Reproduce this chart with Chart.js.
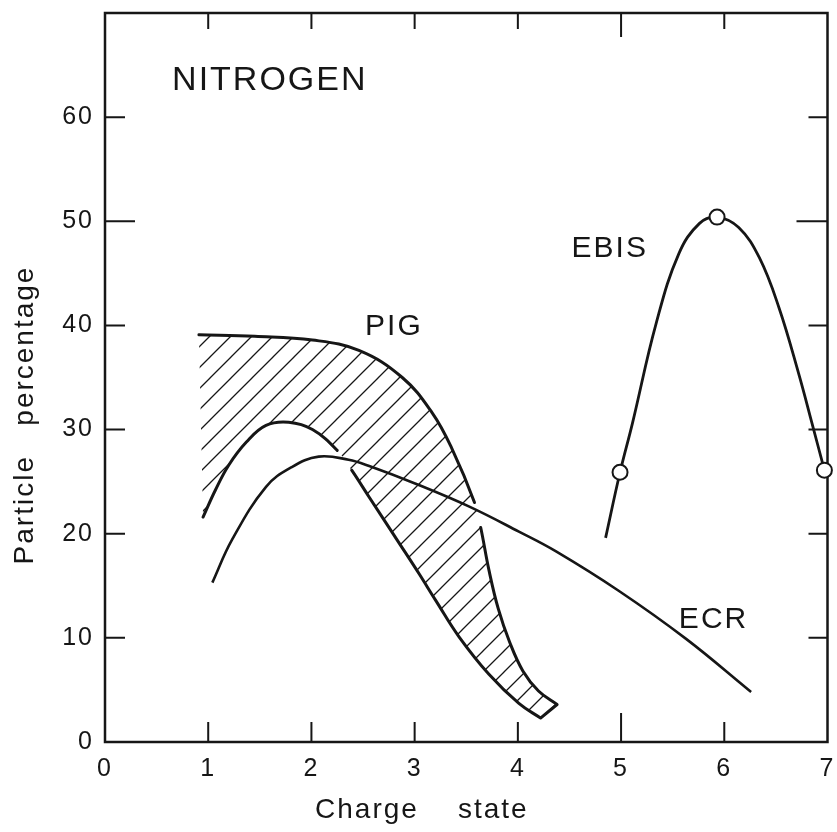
<!DOCTYPE html>
<html>
<head>
<meta charset="utf-8">
<title>Nitrogen - particle percentage by charge state</title>
<script src="https://cdn.jsdelivr.net/npm/chart.js@4.4.1/dist/chart.umd.min.js"></script>
<style>
  html, body { margin: 0; padding: 0; background: #fff; }
  #wrap { width: 837px; height: 832px; }
</style>
</head>
<body>
<div id="wrap"><canvas id="chargeChart"></canvas></div>
<script>
const chargeTicks = [0, 1, 2, 3, 4, 5, 6, 7];
const percentTicks = [0, 10, 20, 30, 40, 50, 60];

// PIG band, upper and lower edge
const pigUpperX = [0.91, 1.45, 2.01, 2.46, 2.88, 3.17, 3.36, 3.58, 3.64, 3.72, 3.81, 3.92, 4.05, 4.20, 4.38];
const pigUpperY = [39.1, 38.95, 38.6, 37.6, 35.0, 31.6, 28.2, 23.0, 20.6, 16.5, 12.8, 9.6, 6.8, 4.9, 3.6];
const pigLowerX = [0.95, 1.07, 1.20, 1.37, 1.56, 1.78, 2.01, 2.25, 2.39, 2.56, 2.85, 3.04, 3.21, 3.43, 3.72, 4.01, 4.22];
const pigLowerY = [21.6, 24.2, 26.6, 28.8, 30.4, 30.7, 30.0, 28.0, 26.1, 23.5, 19.1, 16.2, 13.5, 10.1, 6.5, 3.7, 2.3];

const ecrX = [1.04, 1.23, 1.56, 1.81, 2.07, 2.36, 2.56, 3.01, 3.53, 4.01, 4.37, 4.98, 5.63, 6.26];
const ecrY = [15.3, 19.4, 24.5, 26.4, 27.4, 27.1, 26.5, 24.8, 22.6, 20.2, 18.3, 14.5, 9.9, 4.8];

const ebisX = [4.85, 4.99, 5.11, 5.34, 5.56, 5.76, 5.93, 6.14, 6.34, 6.53, 6.72, 6.85, 6.97];
const ebisY = [19.6, 25.9, 30.6, 40.2, 46.9, 49.8, 50.4, 49.4, 46.5, 41.7, 35.4, 30.6, 26.1];
const ebisMeasuredX = [4.99, 5.93, 6.97];
const ebisMeasuredY = [25.9, 50.4, 26.1];

// the PIG edges are broken where the ECR curve crosses them
const pigBreaks = [[3.58, 3.64], [2.25, 2.39]];

const ink = '#161616';
const fontFamily = "'Liberation Sans', Arial, sans-serif";

const pts = (xs, ys) => xs.map((x, i) => ({ x: x, y: ys[i] }));

// closed outline: upper edge left->right, lower edge right->left
const upper = pts(pigUpperX, pigUpperY);
const lower = pts(pigLowerX, pigLowerY).reverse();
const pigShape = upper.concat([{ ...upper[upper.length - 1] }, { ...lower[0] }], lower);

function makeHatch() {
  const s = 21;
  const c = document.createElement('canvas');
  c.width = s; c.height = s;
  const g = c.getContext('2d');
  g.strokeStyle = ink;
  g.lineWidth = 1.3;
  g.beginPath();
  g.moveTo(0, s); g.lineTo(s, 0);
  g.moveTo(-s / 2, s / 2); g.lineTo(s / 2, -s / 2);
  g.moveTo(s / 2, s * 1.5); g.lineTo(s * 1.5, s / 2);
  g.stroke();
  return g.createPattern(c, 'repeat');
}

const annotations = [
  { text: 'NITROGEN', x: 0.65, y: 62.6, size: 34 },
  { text: 'PIG', x: 2.52, y: 39.1, size: 30 },
  { text: 'EBIS', x: 4.52, y: 46.6, size: 30 },
  { text: 'ECR', x: 5.56, y: 10.9, size: 30 }
];

const spacing = {
  id: 'spacing',
  beforeUpdate(chart) { chart.ctx.letterSpacing = '2px'; },
  beforeDraw(chart) { chart.ctx.letterSpacing = '2px'; }
};

// box round the plot with inward ticks
const frame = {
  id: 'frame',
  beforeDatasetsDraw(chart) {
    const { ctx, chartArea: a, scales: { x, y } } = chart;
    ctx.save();
    ctx.strokeStyle = ink;
    ctx.lineWidth = 2.5;
    ctx.strokeRect(a.left, a.top, a.right - a.left, a.bottom - a.top);
    ctx.lineWidth = 2;
    ctx.beginPath();
    x.ticks.forEach(t => {
      if (t.value <= x.min || t.value >= x.max) return;
      const px = x.getPixelForValue(t.value);
      const big = t.value === 5;
      ctx.moveTo(px, a.bottom); ctx.lineTo(px, a.bottom - (big ? 29 : 20));
      ctx.moveTo(px, a.top); ctx.lineTo(px, a.top + (big ? 24 : 16));
    });
    y.ticks.forEach(t => {
      if (t.value <= y.min || t.value >= y.max) return;
      const py = y.getPixelForValue(t.value);
      const big = t.value === 50;
      ctx.moveTo(a.left, py); ctx.lineTo(a.left + (big ? 30 : 20), py);
      ctx.moveTo(a.right, py); ctx.lineTo(a.right - (big ? 31 : 19), py);
    });
    ctx.stroke();
    ctx.restore();
  }
};

const labels = {
  id: 'labels',
  afterDraw(chart) {
    const { ctx, chartArea: a, scales: { x, y } } = chart;
    ctx.save();
    ctx.fillStyle = ink;
    ctx.letterSpacing = '2px';
    ctx.textBaseline = 'alphabetic';
    ctx.textAlign = 'left';
    annotations.forEach(n => {
      ctx.font = n.size + 'px ' + fontFamily;
      ctx.fillText(n.text, x.getPixelForValue(n.x), y.getPixelForValue(n.y));
    });
    // axis titles
    ctx.font = '28px ' + fontFamily;
    ctx.textAlign = 'center';
    ctx.fillText('Charge    state', x.getPixelForValue(3.07), a.bottom + 76);
    ctx.translate(a.left - 72, y.getPixelForValue(31.4));
    ctx.rotate(-Math.PI / 2);
    ctx.fillText('Particle   percentage', 0, 0);
    ctx.restore();
  }
};

const hatch = makeHatch();

const hideBreaks = c => {
  const d = c.chart.data.datasets[c.datasetIndex].data;
  const p = d[c.p0DataIndex].x, q = d[c.p1DataIndex].x;
  const gap = pigBreaks.some(([s, e]) => (p === s && q === e) || (p === e && q === s));
  return gap ? 'rgba(0,0,0,0)' : undefined;
};

const data = {
  datasets: [
    {
      label: 'EBIS measured',
      data: pts(ebisMeasuredX, ebisMeasuredY),
      showLine: false,
      pointRadius: 7.5,
      pointBorderWidth: 2,
      pointBackgroundColor: '#fff',
      pointBorderColor: ink,
      clip: false
    },
    {
      label: 'EBIS',
      data: pts(ebisX, ebisY),
      showLine: true,
      borderColor: ink,
      borderWidth: 2.8,
      tension: 0.4,
      pointRadius: 0
    },
    {
      label: 'ECR',
      data: pts(ecrX, ecrY),
      showLine: true,
      borderColor: ink,
      borderWidth: 2.6,
      tension: 0.4,
      pointRadius: 0
    },
    {
      label: 'PIG',
      data: pigShape,
      showLine: true,
      fill: false,
      borderColor: ink,
      borderWidth: 3,
      borderCapStyle: 'round',
      borderJoinStyle: 'round',
      tension: 0.4,
      pointRadius: 0,
      segment: { borderColor: hideBreaks }
    },
    {
      label: 'PIG range',
      data: pigShape,
      showLine: true,
      fill: 'shape',
      backgroundColor: hatch,
      borderColor: 'rgba(0,0,0,0)',
      borderWidth: 0,
      tension: 0.4,
      pointRadius: 0
    }
  ]
};

const config = {
  type: 'scatter',
  data: data,
  options: {
    responsive: true,
    maintainAspectRatio: false,
    animation: false,
    events: [],
    layout: { padding: { left: 0, top: 13, right: 9, bottom: 0 } },
    plugins: {
      legend: { display: false },
      tooltip: { enabled: false }
    },
    scales: {
      x: {
        type: 'linear',
        min: 0,
        max: 7,
        afterBuildTicks: s => { s.ticks = chargeTicks.map(v => ({ value: v })); },
        afterFit: s => { s.height = 90; s.paddingLeft = 0; s.paddingRight = 0; },
        grid: { display: false, drawTicks: false },
        border: { display: false },
        ticks: {
          color: ink,
          padding: 12,
          maxRotation: 0,
          autoSkip: false,
          font: { family: fontFamily, size: 25 }
        }
      },
      y: {
        type: 'linear',
        min: 0,
        max: 70,
        afterBuildTicks: s => { s.ticks = percentTicks.map(v => ({ value: v })); },
        afterFit: s => { s.width = 105; s.paddingTop = 0; s.paddingBottom = 0; },
        grid: { display: false, drawTicks: false },
        border: { display: false },
        ticks: {
          color: ink,
          padding: 11,
          autoSkip: false,
          font: { family: fontFamily, size: 25 }
        }
      }
    }
  },
  plugins: [spacing, frame, labels]
};

const chargeChart = new Chart(document.getElementById('chargeChart'), config);
</script>
</body>
</html>
